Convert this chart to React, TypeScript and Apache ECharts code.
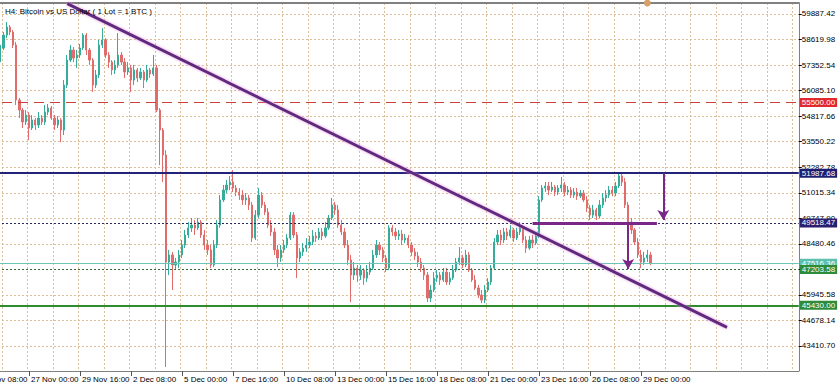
import { useEffect, useRef } from "react";
import * as echarts from "echarts";

const FONT = "'Liberation Sans', Arial, sans-serif";
const BULL = "#35ad9a";
const BEAR = "#e06c6c";
const GRID = "#dcbf98";

// H4 bars, first category 24 Nov 2021 00:00 (UTC)
const firstCategory = Date.UTC(2021, 10, 24, 0);
const barHours = 4;
const categoryCount = 260;
const firstBar = "25 Nov 12:00";
const firstLabel = "24 Nov 08:00";
const monthNames = ["Jan", "Feb", "Mar", "Apr", "May", "Jun", "Jul", "Aug", "Sep", "Oct", "Nov", "Dec"];

const opens = [
  57600, 58200, 58840, 59240, 58990, 58350, 55620, 55120, 54530, 54870,
  54230, 54630, 54380, 54720, 54530, 55020, 55220, 54720, 54380, 54630,
  54130, 56360, 57600, 58100, 57700, 57850, 58200, 58840, 58100, 57600,
  56360, 56860, 58350, 58600, 57850, 57500, 57110, 57360, 57850, 57500,
  57010, 57210, 56610, 57110, 56710, 57010, 56610, 57110, 56910, 57210,
  55120, 54130, 52890, 47580, 47930, 47430, 47580, 47930, 48420, 48920,
  49270, 49410, 49270, 49560, 48920, 48420, 48180, 47430, 48420, 49410,
  50660, 51150, 51400, 51550, 51250, 51050, 50900, 50660, 50760, 50410,
  48770, 49910, 50900, 50410, 50060, 49410, 49070, 48180, 47780, 48180,
  48420, 48770, 49910, 48920, 47780, 48080, 48270, 48420, 48570, 48870,
  48770, 49070, 48870, 49270, 49760, 50410, 50160, 49410, 49070, 48420,
  47680, 46930, 47280, 46930, 47180, 46780, 47080, 47280, 47930, 48420,
  48180, 47780, 47280, 49270, 49070, 48870, 48970, 48670, 48770, 48420,
  48080, 47880, 47580, 47280, 46930, 45790, 46190, 46780, 46930, 46690,
  47080, 46590, 46780, 47180, 47580, 47780, 47430, 47930, 47180, 46690,
  46290, 45940, 45690, 46190, 46590, 47280, 48570, 48920, 48670, 49070,
  48870, 49170, 48770, 49070, 49270, 48670, 48270, 48670, 48520, 48870,
  50660, 51250, 51350, 51150, 51300, 51050, 51250, 51400, 51050, 51150,
  50900, 51050, 50850, 51000, 50660, 50260, 49910, 50160, 49860, 50410,
  50760, 50900, 51150, 51000, 51350, 51850, 51550, 50410, 49560, 49170,
  48570, 47930, 47580, 47780, 47930,
];

const closes = [
  58200, 58840, 59240, 58990, 58350, 55620, 55120, 54530, 54870, 54230,
  54630, 54380, 54720, 54530, 55020, 55220, 54720, 54380, 54630, 54130,
  56360, 57600, 58100, 57700, 57850, 58200, 58840, 58100, 57600, 56360,
  56860, 58350, 58600, 57850, 57500, 57110, 57360, 57850, 57500, 57010,
  57210, 56610, 57110, 56710, 57010, 56610, 57110, 56910, 57210, 55120,
  54130, 52890, 47580, 47930, 47430, 47580, 47930, 48420, 48920, 49270,
  49410, 49270, 49560, 48920, 48420, 48180, 47430, 48420, 49410, 50660,
  51150, 51400, 51550, 51250, 51050, 50900, 50660, 50760, 50410, 48770,
  49910, 50900, 50410, 50060, 49410, 49070, 48180, 47780, 48180, 48420,
  48770, 49910, 48920, 47780, 48080, 48270, 48420, 48570, 48870, 48770,
  49070, 48870, 49270, 49760, 50410, 50160, 49410, 49070, 48420, 47680,
  46930, 47280, 46930, 47180, 46780, 47080, 47280, 47930, 48420, 48180,
  47780, 47280, 49270, 49070, 48870, 48970, 48670, 48770, 48420, 48080,
  47880, 47580, 47280, 46930, 45790, 46190, 46780, 46930, 46690, 47080,
  46590, 46780, 47180, 47580, 47780, 47430, 47930, 47180, 46690, 46290,
  45940, 45690, 46190, 46590, 47280, 48570, 48920, 48670, 49070, 48870,
  49170, 48770, 49070, 49270, 48670, 48270, 48670, 48520, 48870, 50660,
  51250, 51350, 51150, 51300, 51050, 51250, 51400, 51050, 51150, 50900,
  51050, 50850, 51000, 50660, 50260, 49910, 50160, 49860, 50410, 50760,
  50900, 51150, 51000, 51350, 51850, 51550, 50410, 49560, 49170, 48570,
  47930, 47580, 47780, 47930, 47516,
];

const highs = [
  58350, 58990, 59490, 59340, 59090, 58500, 55720, 55220, 55120, 55020,
  54870, 54720, 55020, 54870, 55370, 55420, 55320, 54870, 54820, 54720,
  56610, 57850, 58350, 58250, 58100, 58400, 58940, 58940, 58200, 57700,
  57110, 58600, 59190, 58690, 58000, 57600, 57600, 58940, 58000, 57700,
  57500, 57360, 57360, 57210, 57210, 57110, 57360, 57210, 57850, 57360,
  55220, 54230, 53130, 48180, 48080, 47780, 48180, 48670, 49170, 49560,
  49760, 49660, 49760, 49660, 49170, 48670, 48420, 48670, 49660, 50900,
  51400, 51650, 51850, 52140, 51400, 51250, 51150, 51000, 50900, 50560,
  50160, 51250, 51050, 50560, 50260, 49660, 49270, 48420, 48420, 48670,
  48970, 50060, 50060, 49070, 48270, 48520, 48770, 48870, 49170, 49070,
  49270, 49270, 49560, 49910, 50760, 50560, 50410, 49660, 49270, 48670,
  47930, 47580, 47430, 47430, 47280, 47430, 47580, 48180, 48670, 48570,
  48320, 47930, 49410, 49410, 49270, 49170, 49170, 48970, 48920, 48570,
  48270, 48080, 47780, 47430, 47080, 46440, 47080, 47180, 47080, 47280,
  47280, 47080, 47430, 47780, 48320, 47930, 48180, 48080, 47280, 46930,
  46440, 46190, 46440, 46780, 47430, 48770, 49170, 49170, 49270, 49270,
  49410, 49270, 49270, 49560, 49410, 48870, 48870, 48920, 49070, 50850,
  51400, 51550, 51550, 51550, 51400, 51400, 51800, 51550, 51350, 51300,
  51250, 51250, 51150, 51150, 50850, 50410, 50410, 50260, 50660, 51000,
  51150, 51350, 51350, 51550, 52040, 51990, 51750, 50560, 49760, 49270,
  48770, 48180, 48080, 48180, 48080,
];

const lows = [
  57500, 58100, 58690, 58840, 58200, 55370, 54720, 54230, 54380, 53630,
  54130, 54130, 54230, 54380, 54380, 54870, 54630, 54130, 54230, 53530,
  53880, 56210, 57500, 57500, 57210, 57700, 58100, 57850, 57360, 56020,
  56210, 56710, 58200, 57700, 57210, 56860, 56910, 57210, 57360, 56710,
  56860, 56020, 56360, 56510, 56610, 56210, 56510, 56710, 56810, 55020,
  52390, 51550, 42370, 46930, 46190, 47180, 47280, 47780, 48270, 48770,
  49070, 48920, 49170, 48770, 48180, 47930, 47280, 47330, 48270, 49270,
  50560, 51000, 51150, 51050, 50850, 50660, 50410, 50410, 50160, 48570,
  48670, 49760, 50260, 49910, 49270, 48870, 47930, 47330, 47580, 48030,
  48270, 48670, 48770, 46780, 47580, 47880, 48080, 48270, 48420, 48570,
  48670, 48670, 48770, 49170, 49660, 49910, 49270, 48920, 48270, 47430,
  45590, 46690, 46590, 46690, 46440, 46590, 46930, 47180, 47780, 47930,
  47580, 47080, 47180, 48870, 48670, 48670, 48420, 48520, 48270, 47880,
  47680, 47330, 47080, 46690, 45590, 45590, 46090, 46590, 46440, 46590,
  46440, 46440, 46690, 47080, 47430, 47280, 47330, 47080, 46590, 46190,
  45790, 45540, 45540, 46090, 46440, 47180, 48420, 48420, 48520, 48670,
  48770, 48570, 48670, 48920, 48520, 48030, 48180, 48270, 48420, 48770,
  50560, 51050, 50900, 51050, 50850, 50900, 51050, 50850, 50900, 50760,
  50760, 50660, 50760, 50560, 50060, 49660, 49760, 49660, 49760, 50260,
  50560, 50760, 50850, 50850, 51250, 51350, 50260, 49410, 48970, 48420,
  47780, 47280, 47430, 47580, 47430,
];

const yTicks = [
  43410.7, 44678.14, 45945.58, 47213.02, 48480.46, 49747.9, 51015.34,
  52282.78, 53550.22, 54817.66, 56085.1, 57352.54, 58619.98, 59887.42,
];
const yMin = 42170;
const yMax = 60433;

const levelPrices = [55500.0, 51987.68, 49518.47, 47516.36, 47203.58, 45430.0];
const levelLineColors = ["#c9403c", "#23237a", "#2a2a55", "#6cc5b5", "#3d6b3d", "#2e8b2e"];
const levelLineTypes: any[] = [[10, 6], "solid", [2, 2], "solid", [2, 2], "solid"];
const levelLineWidths = [1, 2, 1, 1, 1, 2];
const levelBoxColors = ["#e0282e", "#1d1f72", "#2b1f6e", "#5cc0b0", "#2e8b3a", "#2e8b3a"];

const trendLine = [["29 Nov 00:00", 60404], ["2 Jan 12:00", 44338]];
const rangeSegment = [["23 Dec 08:00", 49518.47], ["29 Dec 20:00", 49518.47]];
const arrowUpper = [["30 Dec 04:00", 51987.68], ["30 Dec 04:00", 49660]];
const arrowLower = [["28 Dec 08:00", 49518.47], ["28 Dec 08:00", 47230]];
const eventMarker = ["29 Dec 08:00", yMax];

const TITLE = "H4: Bitcoin vs US Dollar ( 1 Lot = 1 BTC )";

function pad2(n: number) {
  return String(n).padStart(2, "0");
}

const categories = Array.from({ length: categoryCount }, (_, i) => {
  const d = new Date(firstCategory + i * barHours * 3600e3);
  return `${d.getUTCDate()} ${monthNames[d.getUTCMonth()]} ${pad2(d.getUTCHours())}:00`;
});

export default function App() {
  const ref = useRef<HTMLDivElement>(null);

  useEffect(() => {
    if (!ref.current) return;
    const chart = echarts.init(ref.current, undefined, { renderer: "svg" });

    const start = categories.indexOf(firstBar);
    const labelStart = categories.indexOf(firstLabel);
    const lastBar = start + closes.length - 1;

    const candleData: any[] = [];
    for (let i = 0; i < start; i++) candleData.push(["-", "-", "-", "-"]);
    for (let j = 0; j < closes.length; j++) {
      candleData.push([opens[j], closes[j], lows[j], highs[j]]);
    }

    const labelFn = (i: number) => i >= labelStart && i <= lastBar && (i - labelStart) % 16 === 0;
    const gridFn = (i: number) => i >= labelStart && (i - labelStart) % 8 === 0;

    const levelLines = levelPrices.map((p, i) => ({
      yAxis: p,
      lineStyle: { color: levelLineColors[i], type: levelLineTypes[i], width: levelLineWidths[i] },
      label: {
        show: true,
        position: "end",
        distance: 1,
        formatter: p.toFixed(2),
        color: "#ffffff",
        backgroundColor: levelBoxColors[i],
        padding: [1, 2, 0, 2],
        fontSize: 8,
        fontFamily: FONT,
      },
    }));

    const purple = "#7a2787";
    const seg = (pts: any[], style: any, arrow = false) => [
      { coord: pts[0], symbol: "none", lineStyle: style, label: { show: false } },
      {
        coord: pts[1],
        symbol: arrow ? "arrow" : "none",
        symbolSize: arrow ? [9, 10] : 0,
        lineStyle: style,
        label: { show: false },
      },
    ];

    chart.setOption({
      animation: false,
      backgroundColor: "#ffffff",
      textStyle: { fontFamily: FONT },
      title: {
        text: TITLE,
        left: 30,
        top: 2,
        textStyle: { fontSize: 8, fontWeight: "normal", color: "#000", fontFamily: FONT },
      },
      grid: { left: 0, right: 40.25, top: 3, bottom: 18 },
      xAxis: [
        {
          type: "category",
          data: categories,
          boundaryGap: true,
          position: "bottom",
          axisLine: { show: true, lineStyle: { color: "#808080", width: 1 } },
          axisTick: { show: true, alignWithLabel: true, interval: labelFn, length: 5, lineStyle: { color: "#555" } },
          axisLabel: {
            interval: labelFn,
            align: "left",
            margin: 4,
            fontSize: 8,
            color: "#000",
            fontFamily: FONT,
            padding: [0, 0, 0, 2],
          },
          splitLine: { show: true, interval: gridFn, lineStyle: { color: GRID, type: [2, 2], width: 1 } },
        },
        {
          type: "category",
          data: categories,
          position: "top",
          axisLine: { show: true, lineStyle: { color: "#808080", width: 2 } },
          axisTick: { show: false },
          axisLabel: { show: false },
          splitLine: { show: false },
        },
      ],
      yAxis: {
        type: "value",
        position: "right",
        min: yMin,
        max: yMax,
        axisLine: { show: true, lineStyle: { color: "#808080" } },
        axisTick: { show: true, customValues: yTicks, length: 3, lineStyle: { color: "#000" } },
        axisLabel: {
          customValues: yTicks,
          formatter: (v: number) => v.toFixed(2),
          fontSize: 8,
          color: "#000",
          margin: 3,
          fontFamily: FONT,
        },
        splitLine: { show: true, lineStyle: { color: GRID, type: [2, 2], width: 1 } },
      },
      series: [
        {
          type: "candlestick",
          data: candleData,
          barWidth: 1.8,
          silent: true,
          z: 3,
          itemStyle: { color: BULL, color0: BEAR, borderColor: BULL, borderColor0: BEAR, borderWidth: 1 },
        },
        {
          type: "line",
          data: [],
          clip: false,
          silent: true,
          z: 4,
          markLine: {
            silent: true,
            symbol: ["none", "none"],
            animation: false,
            data: [
              ...levelLines,
              seg(trendLine, {
                color: "#5e2a7e",
                width: 3,
                type: "solid",
                shadowColor: "rgba(225,140,225,0.9)",
                shadowBlur: 3,
              }),
              seg(rangeSegment, { color: purple, width: 3, type: "solid" }),
              seg(arrowUpper, { color: purple, width: 2, type: "solid" }, true),
              seg(arrowLower, { color: purple, width: 2, type: "solid" }, true),
            ],
          },
          markPoint: {
            silent: true,
            data: [
              {
                coord: eventMarker,
                symbol: "circle",
                symbolSize: 7,
                itemStyle: { color: "#d6a06a" },
                label: { show: false },
              },
            ],
          },
        },
      ],
    });

    return () => chart.dispose();
  }, []);

  return (
    <div
      ref={ref}
      style={{ position: "fixed", left: -30, top: 0, width: 869, height: 389 }}
    />
  );
}
